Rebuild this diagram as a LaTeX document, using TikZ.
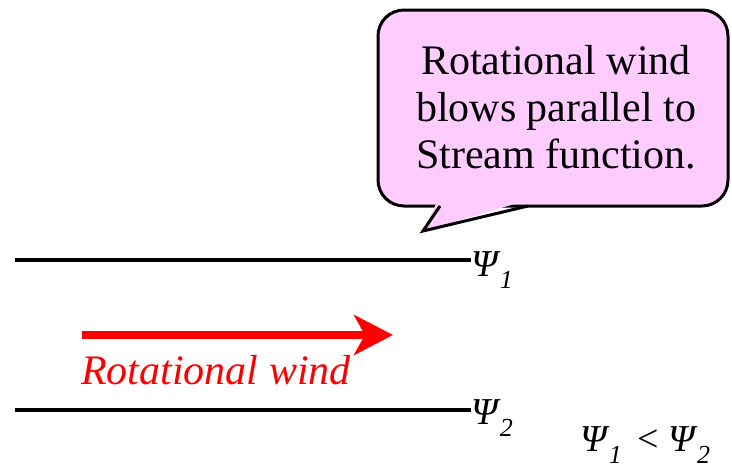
\documentclass[tikz,border=0pt]{standalone}
\usepackage{fontspec}
\setmainfont{Liberation Serif}
\usepackage{tikz}
\usetikzlibrary{arrows.meta,positioning}
\definecolor{BalloonPink}{HTML}{FFCCFF}
\definecolor{WindRed}{HTML}{FF0000}
\newcommand{\bigfont}{\rmfamily\fontsize{42}{47}\selectfont}
\newcommand{\psifont}{\rmfamily\fontsize{38}{42}\selectfont}
\newcommand{\psisub}[1]{\textit{Ψ\hspace{2pt}\raisebox{-12pt}{\fontsize{26}{26}\selectfont #1}}}
\tikzset{every node/.style={font=\bigfont,inner sep=0pt},
  psilabel/.style={font=\psifont,anchor=base west},
  isoline/.style={line width=4pt,black},
  balloon/.style={line width=3pt,fill=BalloonPink,rounded corners=26pt}}

\begin{document}
\begin{tikzpicture}[x=1pt,y=-1pt]
  \useasboundingbox (0,0) rectangle (732,471);
  % --- callout balloon ---
  \draw[balloon] (378,10) rectangle (728,206);
  \fill[BalloonPink] (438,200) -- (423,231) -- (528,200) -- cycle;
  \draw[line width=3pt,line join=miter] (440,206) -- (423,231) -- (528,206);
  \node[align=center] (note) at (556,107)
    {Rotational wind\\blows parallel to\\Stream function.};
  % --- stream function lines ---
  \coordinate (l1s) at (15,260);
  \coordinate (l2s) at (15,410);
  \node[psilabel] (psi1) at (471,276) {\psisub{1}};
  \node[psilabel] (psi2) at (471,424) {\psisub{2}};
  \draw[isoline] (l1s) -- (l1s -| psi1.west);
  \draw[isoline] (l2s) -- (l2s -| psi2.west);
  % --- rotational wind arrow ---
  \coordinate (ws) at (82,335);
  \coordinate (we) at (393,335);
  \draw[-{Stealth[length=39pt,width=40pt,inset=11pt]},line width=8.5pt,WindRed] (ws) -- (we);
  \node[anchor=base west,color=WindRed,font=\bigfont\itshape] (wlab) at (81,384) {Rotational wind};
  % --- ordering note ---
  \node[psilabel] (order) at (580,451)
    {\psisub{1}\hspace{16pt}{\fontsize{38}{40}\selectfont\textless}\hspace{9pt}\psisub{2}};
\end{tikzpicture}
\end{document}
